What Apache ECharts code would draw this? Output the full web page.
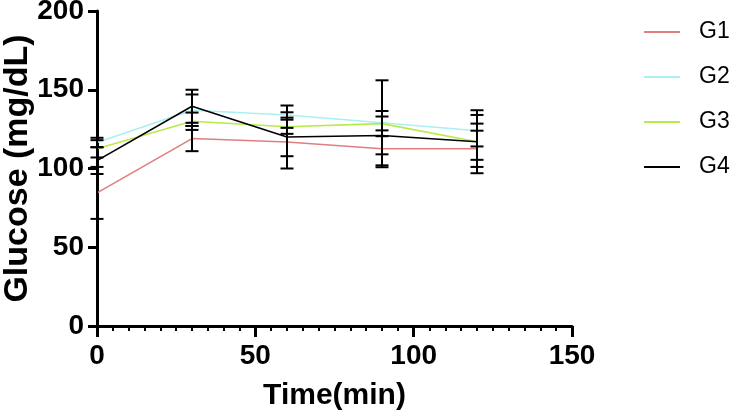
<!DOCTYPE html>
<html>
<head>
<meta charset="utf-8">
<script src="https://cdn.jsdelivr.net/npm/echarts@6/dist/echarts.min.js"></script>
<style>
html,body{margin:0;padding:0;background:#fff;}
#chart{width:734px;height:411px;}
</style>
</head>
<body>
<div id="chart"></div>
<script>
const timePoints = [0, 30, 60, 90, 120];
const seriesNames = ['G1', 'G2', 'G3', 'G4'];
const g1Mean = [84.5, 119, 116.8, 112.5, 112.5];
const g2Mean = [116.5, 137, 134, 129, 124];
const g3Mean = [112.5, 130, 126.5, 128.5, 117];
const g4Mean = [105, 139.5, 120, 121, 117];
const g1Err = [16.5, 8, 9, 11.7, 11.5];
const g2Err = [3, 10, 1.7, 27, 10];
const g3Err = [5.5, 5.5, 4.5, 8, 20];
const g4Err = [8.5, 10.5, 20, 12, 11.5];
const xTicks = [0, 50, 100, 150];
const yTicks = [0, 50, 100, 150, 200];

const means = [g1Mean, g2Mean, g3Mean, g4Mean];
const errs = [g1Err, g2Err, g3Err, g4Err];
const colors = ['#E07F7F', '#A8F0F4', '#B8EA4A', '#000000'];
const FONT = 'Liberation Sans, Arial, sans-serif';

const chart = echarts.init(document.getElementById('chart'), null, {renderer: 'canvas'});

const lineSeries = seriesNames.map((n, i) => ({
  name: n,
  type: 'line',
  data: timePoints.map((t, j) => [t, means[i][j]]),
  showSymbol: false,
  symbol: 'none',
  lineStyle: {color: colors[i], width: 1.6},
  itemStyle: {color: colors[i]},
  z: 3,
  animation: false
}));

const errSeries = seriesNames.map((n, i) => ({
  name: n + ' err',
  type: 'custom',
  data: timePoints.map((t, j) => [t, means[i][j] - errs[i][j], means[i][j] + errs[i][j]]),
  encode: {x: 0, y: [1, 2]},
  clip: false,
  z: 4,
  silent: true,
  animation: false,
  renderItem: function (params, api) {
    const x = api.value(0);
    const top = api.coord([x, api.value(2)]);
    const bot = api.coord([x, api.value(1)]);
    const w = 6.5;
    const st = {stroke: '#000', lineWidth: 2};
    return {
      type: 'group',
      children: [
        {type: 'line', shape: {x1: top[0], y1: top[1], x2: bot[0], y2: bot[1]}, style: st},
        {type: 'line', shape: {x1: top[0] - w, y1: top[1], x2: top[0] + w, y2: top[1]}, style: st},
        {type: 'line', shape: {x1: bot[0] - w, y1: bot[1], x2: bot[0] + w, y2: bot[1]}, style: st}
      ]
    };
  }
}));

chart.setOption({
  animation: false,
  backgroundColor: '#fff',
  grid: {left: 97, right: 162, top: 11, bottom: 85, containLabel: false, outerBoundsMode: 'none'},
  legend: {
    data: seriesNames,
    orient: 'vertical',
    left: 639,
    top: 14,
    icon: 'rect',
    itemWidth: 36,
    itemHeight: 2,
    itemGap: 19,
    textStyle: {fontFamily: FONT, fontSize: 23, color: '#000', padding: [0, 0, 0, 14], lineHeight: 26}
  },
  xAxis: {
    type: 'value',
    min: 0,
    max: 150,
    interval: 50,
    name: 'Time(min)',
    nameLocation: 'middle',
    nameGap: 55,
    nameMoveOverlap: false,
    nameTextStyle: {fontFamily: FONT, fontSize: 30, fontWeight: 'bold', color: '#000'},
    axisLine: {show: true, onZero: false, lineStyle: {color: '#000', width: 3}},
    axisTick: {show: true, length: 11, lineStyle: {color: '#000', width: 3}},
    minorTick: {show: true, splitNumber: 10, length: 5, lineStyle: {color: '#000', width: 2}},
    axisLabel: {margin: 16, fontFamily: FONT, fontSize: 28, fontWeight: 'bold', color: '#000',
      formatter: v => xTicks.includes(v) ? String(v) : ''},
    splitLine: {show: false},
    minorSplitLine: {show: false}
  },
  yAxis: {
    type: 'value',
    min: 0,
    max: 200,
    interval: 50,
    name: 'Glucose (mg/dL)',
    nameLocation: 'middle',
    nameGap: 62,
    nameMoveOverlap: false,
    nameRotate: 90,
    nameTextStyle: {fontFamily: FONT, fontSize: 34, fontWeight: 'bold', color: '#000'},
    axisLine: {show: true, onZero: false, lineStyle: {color: '#000', width: 3}},
    axisTick: {show: true, length: 9, lineStyle: {color: '#000', width: 3}},
    axisLabel: {margin: 13, fontFamily: FONT, fontSize: 28, fontWeight: 'bold', color: '#000',
      formatter: v => yTicks.includes(v) ? String(v) : ''},
    splitLine: {show: false}
  },
  series: [...lineSeries, ...errSeries]
});
</script>
</body>
</html>
